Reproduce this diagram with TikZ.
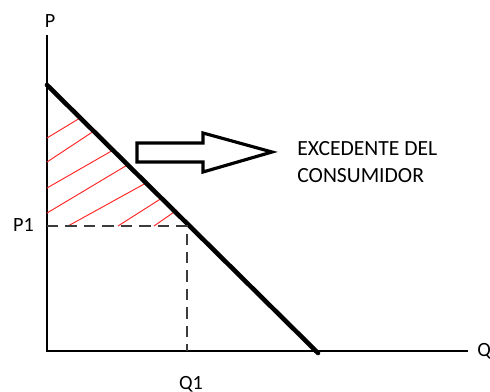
\documentclass[tikz,border=0pt]{standalone}
\usepackage{fontspec}
\setmainfont{Carlito}
\definecolor{hatchred}{RGB}{255,40,40}
\definecolor{dashgray}{RGB}{60,60,60}
\tikzset{
  axisline/.style={line width=0.85pt, black},
  demandline/.style={line width=2.6pt, black, line cap=round},
  guideline/.style={dashgray, line width=0.8pt, dash pattern=on 6.5pt off 4pt},
  hatchline/.style={hatchred, line width=0.55pt},
  bigarrow/.style={line width=1.8pt, line join=miter, black},
  axislabel/.style={font=\fontsize{11.5}{14}\selectfont, inner sep=0pt},
  notelabel/.style={font=\fontsize{12.3}{15.3}\selectfont, align=left, inner sep=0pt},
}

\begin{document}
\begin{tikzpicture}[x=0.02cm, y=-0.02cm]
\useasboundingbox (0,0) rectangle (490,392);

% --- axes ---
\coordinate (origin) at (47,351);
\coordinate (ptop) at (47,35);
\coordinate (qend) at (468,351);
\draw[axisline] (ptop) -- (origin) -- (qend);
\node[axislabel] (plabel) at (50,21) {P};
\node[axislabel, anchor=west] (qlabel) at (477,351) {Q};

% --- shaded surplus ---
\foreach \sx/\sy/\ex/\ey in {47/138/80/118, 47/162/94/131, 47/188/115/149,
    47/213/129/164, 68/226/146/183, 118/226/162/198, 154/226/177/210}
  \draw[hatchline] (\sx,\sy) -- (\ex,\ey);

% --- demand curve ---
\coordinate (dtop) at (47,85);
\coordinate (dbot) at (318,353);
\draw[demandline] (dtop) -- (dbot);

% --- equilibrium guides ---
\coordinate (p1) at (47,226);
\coordinate (eq) at (187,226);
\coordinate (q1) at (187,351);
\draw[guideline] (p1) -- (eq) -- (q1);
\node[axislabel] (p1label) at (23.5,225) {P1};
\node[axislabel] (q1label) at (191,384) {Q1};

% --- pointer arrow and note ---
\draw[bigarrow] (137,143) -- (203,143) -- (203,133) -- (272,152)
  -- (203,172) -- (203,162) -- (137,162) -- cycle;
\node[notelabel, anchor=base west] (note) at (297,182)
  {EXCEDENTE DEL\\CONSUMIDOR};

\end{tikzpicture}
\end{document}
